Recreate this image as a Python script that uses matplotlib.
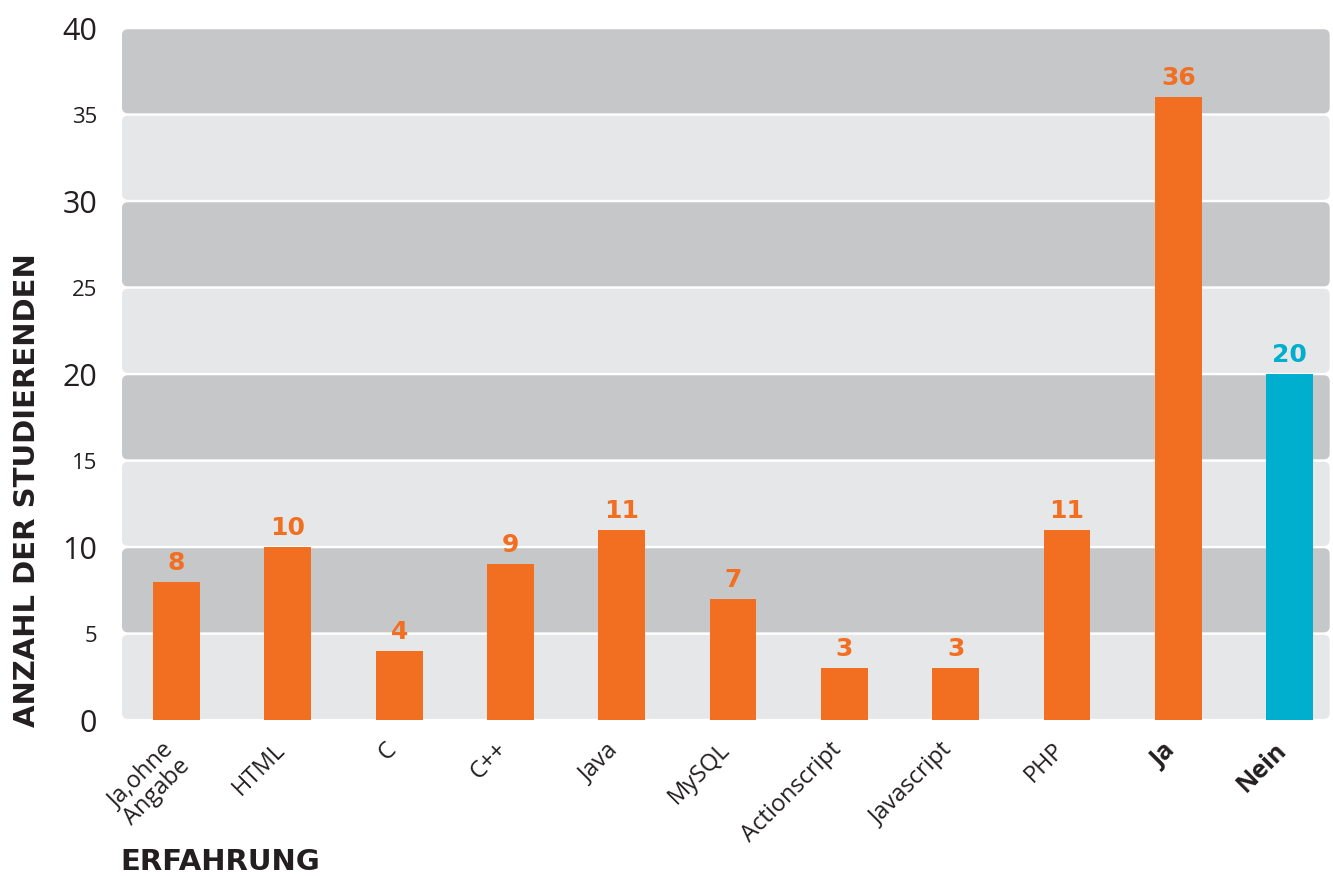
import numpy as np
import matplotlib
matplotlib.use("Agg")
import matplotlib.pyplot as plt
import matplotlib.transforms as mtransforms
from matplotlib.patches import FancyBboxPatch

# Erfahrung der Studierenden mit Programmiersprachen
categories = ["Ja,ohne\nAngabe", "HTML", "C", "C++", "Java", "MySQL",
              "Actionscript", "Javascript", "PHP", "Ja", "Nein"]
counts = [8, 10, 4, 9, 11, 7, 3, 3, 11, 36, 20]
bold_labels = ["Ja", "Nein"]
major_ticks = [0, 10, 20, 30, 40]
minor_ticks = [5, 15, 25, 35]

orange = "#f26f21"
blue = "#00aecd"
dark_band = "#c6c7c9"
light_band = "#e6e7e9"
text_col = "#231f20"

fig = plt.figure(figsize=(13.33, 8.76), dpi=100)
ax = fig.add_axes([0.0915, 0.178, 0.906, 0.79])

x = np.arange(len(categories))
xmin, xmax = -0.49, len(categories) - 0.64
ax.set_xlim(xmin, xmax)
ax.set_ylim(0, 40)

# horizontal background bands with rounded corners
px_x = (xmax - xmin) / (0.906 * 1333)
px_y = 40 / (0.79 * 876)
gap = 1.2 * px_y
for i, lo in enumerate(range(0, 40, 5)):
    col = light_band if i % 2 == 0 else dark_band
    band = FancyBboxPatch((xmin, lo + gap), xmax - xmin, 5 - 2 * gap,
                          boxstyle="round,pad=0,rounding_size=%f" % (6 * px_x),
                          mutation_aspect=px_y / px_x,
                          facecolor=col, edgecolor="none", zorder=0)
    ax.add_patch(band)

colors = [orange] * (len(categories) - 1) + [blue]
bars = ax.bar(x, counts, width=0.42, color=colors, zorder=2)
for b, v, c in zip(bars, counts, colors):
    ax.annotate(str(v), (b.get_x() + b.get_width() / 2, v),
                xytext=(0, 5), textcoords="offset points",
                ha="center", va="bottom", color=c,
                fontsize=18, fontweight="bold", family="DejaVu Sans")

for s in ax.spines.values():
    s.set_visible(False)
ax.tick_params(length=0)

ax.set_yticks(major_ticks)
ax.set_yticklabels([str(t) for t in major_ticks], fontsize=22,
                   family="Open Sans", color=text_col)
ax.set_yticks(minor_ticks, minor=True)
ax.set_yticklabels([str(t) for t in minor_ticks], minor=True, fontsize=16,
                   family="Open Sans", color=text_col)
ax.tick_params(axis="y", which="both", length=0, pad=18)

ax.set_xticks(x)
ax.set_xticklabels(categories, rotation=45, ha="right",
                   rotation_mode="anchor", fontsize=17, family="Open Sans",
                   color=text_col, multialignment="right", linespacing=0.95)
ax.tick_params(axis="x", pad=13)
shift = mtransforms.ScaledTranslation(-15 / 100, 0, fig.dpi_scale_trans)
for lbl in ax.get_xticklabels():
    lbl.set_transform(lbl.get_transform() + shift)
    if lbl.get_text() in bold_labels:
        lbl.set_fontweight("bold")
        lbl.set_fontsize(18)

fig.text(0.02, 0.44, "ANZAHL DER STUDIERENDEN", rotation=90,
         ha="center", va="center", fontsize=21, fontweight="bold",
         family="DejaVu Sans", color=text_col)
fig.text(0.09, 0.0, "ERFAHRUNG", ha="left", va="bottom",
         fontsize=21, fontweight="bold", family="DejaVu Sans", color=text_col)

fig.savefig("out.png", dpi=100, facecolor="white")
